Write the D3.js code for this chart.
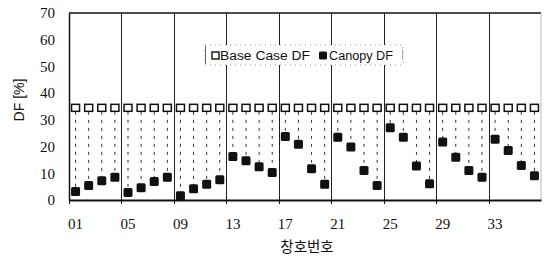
<!DOCTYPE html>
<html><head><meta charset="utf-8">
<script src="https://cdn.jsdelivr.net/npm/d3@7"></script>
<style>body{margin:0;background:#fff}svg{display:block}</style>
</head><body><svg id="c" width="544" height="258"></svg>
<script>
const categories = ["01","02","03","04","05","06","07","08","09","10","11","12","13","14","15","16","17","18","19","20","21","22","23","24","25","26","27","28","29","30","31","32","33","34","35","36"];
const baseCaseDF = [34.5,34.5,34.5,34.5,34.5,34.5,34.5,34.5,34.5,34.5,34.5,34.5,34.5,34.5,34.5,34.5,34.5,34.5,34.5,34.5,34.5,34.5,34.5,34.5,34.5,34.5,34.5,34.5,34.5,34.5,34.5,34.5,34.5,34.5,34.5,34.5];
const canopyDF = [3.2,5.4,7.2,8.5,2.8,4.6,6.9,8.5,1.6,4.2,5.9,7.6,16.3,14.7,12.4,10.3,23.8,20.9,11.7,5.9,23.5,19.8,11.0,5.4,27.0,23.5,12.7,6.1,21.7,16.0,11.0,8.5,22.7,18.5,12.9,9.1];
const xTickLabels = ["01","05","09","13","17","21","25","29","33"];
const yTicks = [0,10,20,30,40,50,60,70];
const seriesNames = ["Base Case DF","Canopy DF"];

const svg = d3.select("#c");
const L=69, R=541, T=13, B=200;
const x = d3.scaleBand().domain(categories).range([L,R]).padding(0);
const y = d3.scaleLinear().domain([0,70]).range([B,T]);
const serif = "'Liberation Serif','Times New Roman',serif";
const sans = "'Liberation Sans',Arial,sans-serif";

// group gridlines at every 4th category boundary
const boundaries = categories.filter((d,i)=>i%4===0 && i>0);
svg.append("g").selectAll("line").data(boundaries).join("line")
  .attr("x1",d=>Math.round(x(d))+0.5).attr("x2",d=>Math.round(x(d))+0.5)
  .attr("y1",T).attr("y2",B).attr("stroke","#222").attr("stroke-width",1);

// high-low dotted lines
svg.append("g").selectAll("line").data(categories).join("line")
  .attr("x1",d=>x(d)+x.bandwidth()/2).attr("x2",d=>x(d)+x.bandwidth()/2)
  .attr("y1",(d,i)=>y(baseCaseDF[i])+4).attr("y2",(d,i)=>y(canopyDF[i]))
  .attr("stroke","#333").attr("stroke-width",1).attr("stroke-dasharray","3,5");

// frame
svg.append("line").attr("x1",L).attr("x2",R).attr("y1",T).attr("y2",T).attr("stroke","#111").attr("stroke-width",1.5);
svg.append("line").attr("x1",R).attr("x2",R).attr("y1",T).attr("y2",B).attr("stroke","#bbb").attr("stroke-width",1);

// y axis
const ya = svg.append("g").attr("transform",`translate(${L},0)`)
  .call(d3.axisLeft(y).tickValues(yTicks).tickSize(0).tickPadding(14).tickFormat(d3.format("d")));
ya.select(".domain").attr("stroke","#111").attr("stroke-width",1.5);
ya.selectAll("text").attr("font-family",serif).attr("font-size",15).attr("fill","#111");

// x axis
const xa = svg.append("g").attr("transform",`translate(0,${B})`)
  .call(d3.axisBottom(x).tickValues(xTickLabels).tickSize(0));
xa.select(".domain").attr("stroke","#111").attr("stroke-width",2);
xa.selectAll("text").attr("font-family",serif).attr("font-size",15).attr("fill","#111")
  .attr("y",23.5).attr("dy","0.35em");
// boundary tick marks
const allBounds = categories.filter((d,i)=>i%4===0);
svg.append("g").selectAll("line").data(allBounds).join("line")
  .attr("x1",d=>Math.round(x(d))+0.5).attr("x2",d=>Math.round(x(d))+0.5)
  .attr("y1",B-3).attr("y2",B+4).attr("stroke","#111").attr("stroke-width",1);

// markers
svg.append("g").selectAll("rect").data(categories).join("rect")
  .attr("x",d=>x(d)+x.bandwidth()/2-4).attr("y",(d,i)=>y(baseCaseDF[i])-3.5)
  .attr("width",8).attr("height",7).attr("fill","#fff").attr("stroke","#111").attr("stroke-width",1.5);
svg.append("g").selectAll("rect").data(categories).join("rect")
  .attr("x",d=>x(d)+x.bandwidth()/2-4.5).attr("y",(d,i)=>y(canopyDF[i])-4.5)
  .attr("width",9).attr("height",9).attr("rx",1.5).attr("fill","#111");

// legend
const lg = svg.append("g");
lg.append("rect").attr("x",205).attr("y",45).attr("width",198).attr("height",20).attr("fill","#fff")
  .attr("stroke","#999").attr("stroke-width",1).attr("stroke-dasharray","1,4");
lg.append("line").attr("x1",205.5).attr("x2",205.5).attr("y1",46).attr("y2",64).attr("stroke","#666");
lg.append("line").attr("x1",402.5).attr("x2",402.5).attr("y1",49).attr("y2",60).attr("stroke","#aaa");
lg.append("rect").attr("x",212).attr("y",52).attr("width",7).attr("height",7).attr("fill","#fff").attr("stroke","#111").attr("stroke-width",1.4);
lg.append("text").attr("x",220).attr("y",56).attr("dy","0.35em").attr("font-family",sans).attr("font-size",12.5)
  .attr("textLength",90).attr("lengthAdjust","spacingAndGlyphs").attr("fill","#111").text(seriesNames[0]);
lg.append("rect").attr("x",319).attr("y",51.5).attr("width",8).attr("height",8).attr("rx",1.5).attr("fill","#111");
lg.append("text").attr("x",329).attr("y",56).attr("dy","0.35em").attr("font-family",sans).attr("font-size",12.5)
  .attr("textLength",64).attr("lengthAdjust","spacingAndGlyphs").attr("fill","#111").text(seriesNames[1]);

// axis titles
svg.append("text").attr("transform","translate(19,100) rotate(-90)").attr("text-anchor","middle").attr("dy","0.35em")
  .attr("font-family",sans).attr("font-size",14).attr("fill","#111").text("DF [%]");
svg.append("text").attr("x",307).attr("y",247).attr("text-anchor","middle").attr("dy","0.35em")
  .attr("font-family","'Noto Sans CJK KR',sans-serif").attr("font-size",14.5).attr("fill","#111").text("창호번호");
</script></body></html>
